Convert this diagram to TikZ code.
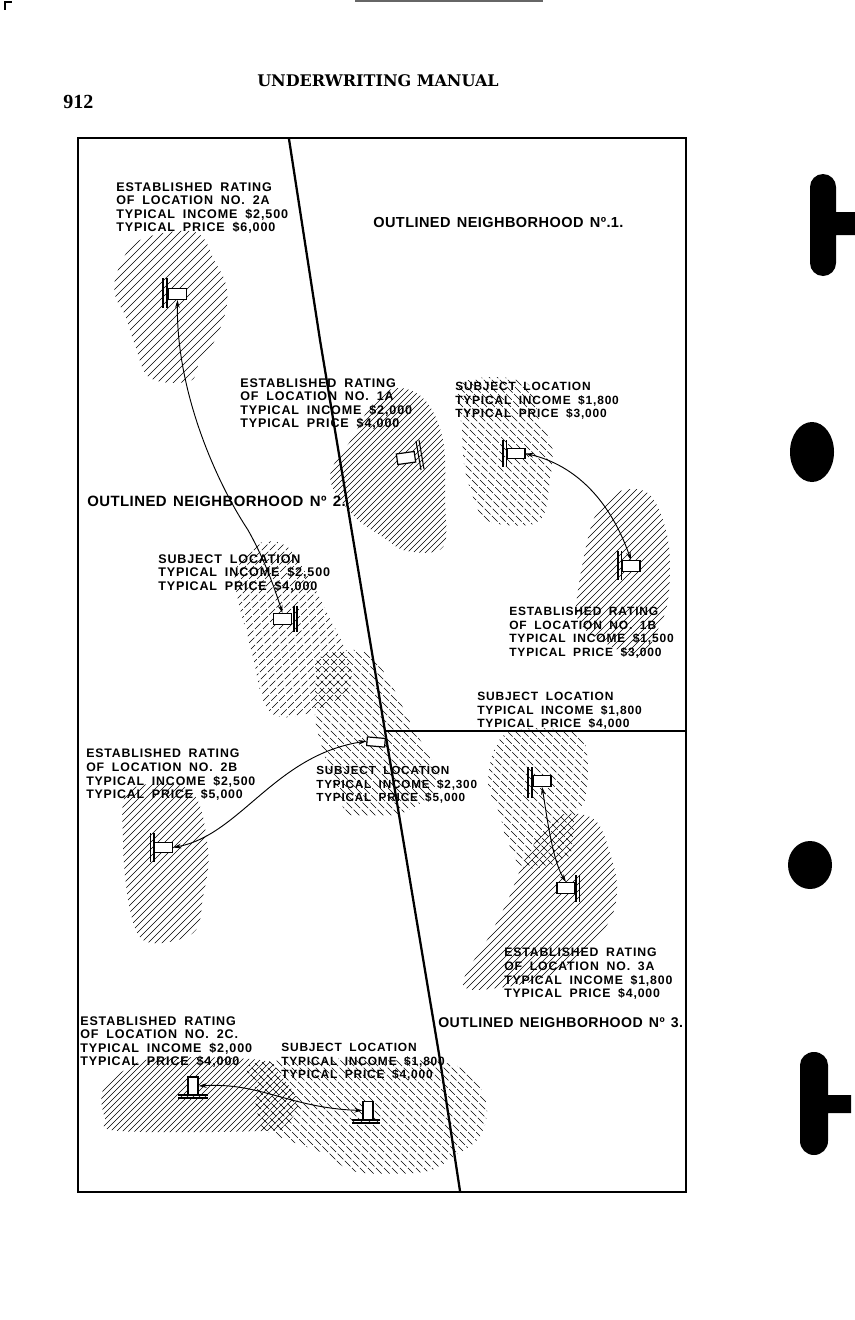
\documentclass[tikz,border=0pt]{standalone}
\usepackage{fontspec}
\setmainfont{Liberation Sans}
\newfontfamily\labelfont[LetterSpace=7,WordSpace=1.8]{Liberation Sans}
\newfontfamily\hoodfont[LetterSpace=3,WordSpace=1.4]{Liberation Sans}
\newfontfamily\pagefont{Liberation Serif}
\newfontfamily\headfont{DejaVu Serif}
\usetikzlibrary{arrows.meta}
\newcommand{\hatchNE}[3]{\begin{scope}\clip plot[smooth cycle,tension=0.6] coordinates {#1};
  \foreach \c in {300,#2,...,1700} \draw[#3] (\c,0) -- (\c-1320,1320);\end{scope}}
\newcommand{\hatchNW}[3]{\begin{scope}\clip plot[smooth cycle,tension=0.6] coordinates {#1};
  \foreach \c in {-1200,#2,...,700} \draw[#3] (\c,0) -- (\c+1320,1320);\end{scope}}
\tikzset{
  hatchline/.style={line width=0.5pt,black},
  hatchdash/.style={line width=0.5pt,black,dash pattern=on 6pt off 1.6pt},
  blocktext/.style={anchor=north west,align=left,inner sep=0pt,yshift=-0.75pt,font=\labelfont\fontsize{#1}{10.2pt}\selectfont\bfseries},
  blocktext/.default=9.4pt,
  hood/.style={anchor=west,inner sep=0pt,font=\hoodfont\fontsize{#1}{13pt}\selectfont\bfseries},
  hood/.default=11.2pt,
  flag/.style={draw,fill=white,line width=0.9pt,minimum width=13.5pt,minimum height=8pt,inner sep=0pt},
  vflag/.style={draw,fill=white,line width=0.9pt,minimum width=7.5pt,minimum height=13.5pt,inner sep=0pt},
  bar/.style={line width=0.8pt},
  boundary/.style={line width=1.7pt,line join=round},
  link/.style={line width=0.7pt,{Stealth[length=6pt,width=3.5pt]}-{Stealth[length=6pt,width=3.5pt]}},
  ink/.style={fill=black,draw=none}
}
\begin{document}
\begin{tikzpicture}[x=0.75pt,y=-0.75pt]
\useasboundingbox (0,0) rectangle (855,1320);
% hatched areas
\hatchNE{(140,240)(195,232)(215,262)(226,285)(226,310)(215,340)(200,360)(190,381)(150,378)(135,345)(125,315)(115,295)(118,270)}{308}{hatchline}
\hatchNE{(397,388)(425,400)(443,440)(445,500)(443,547)(407,551)(383,537)(353,515)(330,477)(353,437)(373,403)}{306}{hatchline}
\hatchNW{(462,383)(525,382)(540,423)(552,445)(550,480)(538,522)(487,522)(477,507)(465,470)(462,430)}{-1192}{hatchdash}
\hatchNE{(620,491)(650,495)(668,540)(668,600)(655,635)(640,657)(600,640)(578,620)(578,590)(590,530)(600,510)}{307}{hatchline}
\hatchNE{(255,545)(285,545)(310,580)(327,613)(345,650)(350,687)(317,710)(280,717)(263,700)(253,657)(238,600)(236,570)}{308}{hatchdash}
\hatchNW{(320,657)(363,651)(387,677)(413,728)(430,757)(438,785)(405,812)(363,816)(343,807)(323,750)(315,717)(316,680)}{-1192}{hatchdash}
\hatchNE{(130,790)(190,790)(208,850)(203,897)(193,933)(147,942)(130,910)(123,840)}{307}{hatchline}
\hatchNW{(507,733)(575,733)(588,765)(585,800)(575,815)(570,855)(525,868)(507,840)(500,815)(488,780)}{-1192}{hatchdash}
\hatchNE{(560,815)(595,820)(612,860)(617,890)(610,920)(585,950)(550,975)(505,987)(463,985)(490,935)(508,900)(522,866)(540,835)}{307}{hatchline}
\hatchNE{(125,1070)(160,1058)(260,1060)(280,1075)(298,1103)(285,1125)(262,1131)(120,1131)(105,1118)(103,1090)}{306}{hatchline}
\hatchNW{(262,1062)(440,1062)(483,1093)(482,1133)(453,1157)(423,1172)(357,1172)(323,1153)(270,1133)(258,1115)(255,1085)}{-1192}{hatchdash}
% frame and boundaries
\draw[line width=1.6pt] (78,138) rectangle (686,1192);
\coordinate (bTop) at (289,139);
\coordinate (bA) at (320,340);
\coordinate (bMid) at (385,731);
\coordinate (bB) at (440,1060);
\coordinate (bEnd) at (460,1191);
\coordinate (bRight) at (685,731);
\draw[boundary] (bTop) -- (bA) -- (bMid) -- (bB) -- (bEnd);
\draw[boundary] (bMid) -- (bRight);
% labels
\node[blocktext] (t2a) at (116,181) {ESTABLISHED RATING\\OF LOCATION NO. 2A\\TYPICAL INCOME \$2,500\\TYPICAL PRICE \$6,000};
\node[hood=10.9pt] (n1) at (373,222) {OUTLINED NEIGHBORHOOD Nº.1.};
\node[blocktext] (t1a) at (240,377) {ESTABLISHED RATING\\OF LOCATION NO. 1A\\TYPICAL INCOME \$2,000\\TYPICAL PRICE \$4,000};
\node[blocktext=8.95pt] (ts1) at (455,381) {SUBJECT LOCATION\\TYPICAL INCOME \$1,800\\TYPICAL PRICE \$3,000};
\node[hood] (n2) at (87,501) {OUTLINED NEIGHBORHOOD Nº 2.};
\node[blocktext] (ts2) at (158,553) {SUBJECT LOCATION\\TYPICAL INCOME \$2,500\\TYPICAL PRICE \$4,000};
\node[blocktext=9pt] (t1b) at (509,606) {ESTABLISHED RATING\\OF LOCATION NO. 1B\\TYPICAL INCOME \$1,500\\TYPICAL PRICE \$3,000};
\node[blocktext=9pt] (ts3) at (477,691) {SUBJECT LOCATION\\TYPICAL INCOME \$1,800\\TYPICAL PRICE \$4,000};
\node[blocktext=9.25pt] (t2b) at (86,748) {ESTABLISHED RATING\\OF LOCATION NO. 2B\\TYPICAL INCOME \$2,500\\TYPICAL PRICE \$5,000};
\node[blocktext=8.8pt] (tsc) at (316,765) {SUBJECT LOCATION\\TYPICAL INCOME \$2,300\\TYPICAL PRICE \$5,000};
\node[blocktext=9.2pt] (t3a) at (504,947) {ESTABLISHED RATING\\OF LOCATION NO. 3A\\TYPICAL INCOME \$1,800\\TYPICAL PRICE \$4,000};
\node[hood=10.6pt] (n3) at (438,1023) {OUTLINED NEIGHBORHOOD Nº 3.};
\node[blocktext] (t2c) at (80,1015) {ESTABLISHED RATING\\OF LOCATION NO. 2C.\\TYPICAL INCOME \$2,000\\TYPICAL PRICE \$4,000};
\node[blocktext=8.95pt] (tsb) at (281,1042) {SUBJECT LOCATION\\TYPICAL INCOME \$1,800\\TYPICAL PRICE \$4,000};
% markers
\node[flag] (m2a) at (177.5,294) {};
\draw[bar] (163,278) -- (163,308) (167,278) -- (167,308);
\node[flag,rotate=8] (m1a) at (406,458) {};
\draw[bar] (416,441) -- (421,470) (419,440) -- (424,469);
\node[flag] (ms1) at (516,453.5) {};
\draw[bar] (503,440) -- (503,467) (506.5,440) -- (506.5,467);
\node[flag] (m1b) at (631,566) {};
\draw[bar] (618,551) -- (618,580) (621.5,551) -- (621.5,580);
\node[flag] (ms2) at (282.5,619) {};
\draw[bar] (294,606) -- (294,632) (297,606) -- (297,632);
\node[flag,minimum height=6.5pt,rotate=-5] (msc) at (376,742) {};
\node[flag] (m2b) at (163.5,847.5) {};
\draw[bar] (150.5,833) -- (150.5,862) (154,833) -- (154,862);
\node[flag] (ms3) at (542,781) {};
\draw[bar] (528,767) -- (528,798) (532,767) -- (532,798);
\node[flag] (m3a) at (566,888) {};
\draw[bar] (576,875) -- (576,902) (579.5,875) -- (579.5,902);
\node[vflag] (m2c) at (193,1086) {};
\draw[bar] (178,1095) -- (208,1095) (178,1098) -- (208,1098);
\node[vflag] (msb) at (368,1110.5) {};
\draw[bar] (352,1120) -- (380,1120) (352,1123) -- (380,1123);
% connectors
\draw[link] (m2a.south) .. controls (176,390) and (215,480) .. (248,530) .. controls (262,555) and (272,580) .. (ms2.north);
\draw[link] (ms1.east) .. controls (575,465) and (610,500) .. (m1b.north);
\draw[link] (msc.west) .. controls (275,755) and (240,835) .. (m2b.east);
\draw[link] (ms3.south) .. controls (546,810) and (552,860) .. (m3a.north);
\draw[link] (m2c.east) .. controls (260,1082) and (290,1108) .. (msb.west);
% page furniture
\node[inner sep=0pt,font=\headfont\fontsize{12pt}{14pt}\selectfont\bfseries] (head) at (378,81) {UNDERWRITING MANUAL};
\node[inner sep=0pt,anchor=west,font=\pagefont\fontsize{15pt}{17pt}\selectfont\bfseries] (folio) at (63,102) {912};
% binding marks
\draw[ink] (810,187) arc[start angle=180,end angle=360,x radius=13,y radius=13] -- (836,212) -- (855,212) -- (855,235) -- (836,235) -- (836,263) arc[start angle=0,end angle=180,x radius=13,y radius=13] -- cycle;
\fill[ink] (812,452) ellipse [x radius=22,y radius=30];
\fill[ink] (810,865) ellipse [x radius=22,y radius=24];
\draw[ink] (800,1065) arc[start angle=180,end angle=360,x radius=14,y radius=13] -- (828,1095) -- (851,1095) -- (851,1113) -- (828,1113) -- (828,1141) arc[start angle=0,end angle=180,x radius=14,y radius=14] -- cycle;
\draw[line width=1pt] (5,10) -- (5,2) -- (12,2);
\draw[line width=0.8pt,black!60] (355,1) -- (543,1);
\end{tikzpicture}
\end{document}
